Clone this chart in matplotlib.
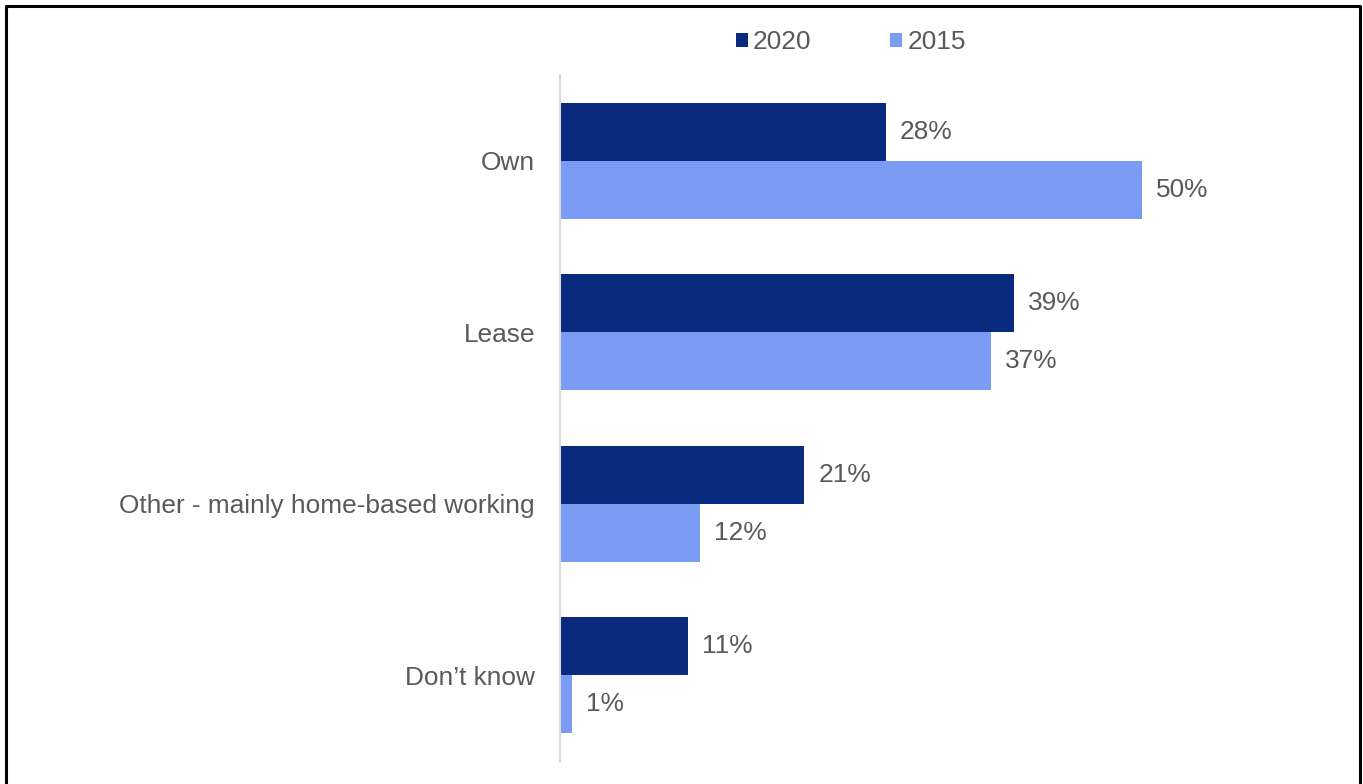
import matplotlib.pyplot as plt
from matplotlib.lines import Line2D
import numpy as np

plt.rcParams['font.family'] = ['Liberation Sans', 'DejaVu Sans']

categories = ['Own', 'Lease', 'Other - mainly home-based working', 'Don\u2019t know']
vals_2020 = [28, 39, 21, 11]
vals_2015 = [50, 37, 12, 1]

navy = '#0A2A80'
light = '#7B9CF5'
grey = '#595959'

W, H = 1363, 784
fig = plt.figure(figsize=(W / 100, H / 100), dpi=100)

# axes placed in pixel terms: zero line at x=560, rows from y=75 to y=761
px_per_pct = 11.64
x_max = 60
ax = fig.add_axes([560 / W, (H - 761) / H, x_max * px_per_pct / W, 686 / H])

y = np.arange(len(categories))
h = 0.338
b1 = ax.barh(y - h / 2, vals_2020, height=h, color=navy, label='2020')
b2 = ax.barh(y + h / 2, vals_2015, height=h, color=light, label='2015')

fs = 18.9
for bars, vals in ((b1, vals_2020), (b2, vals_2015)):
    for bar, v in zip(bars, vals):
        ax.text(v + 1.2, bar.get_y() + bar.get_height() / 2, f'{v}%',
                va='center', ha='left', fontsize=fs, color=grey)

ax.set_xlim(0, x_max)
ax.set_ylim(len(categories) - 0.5, -0.5)
ax.set_yticks(y)
ax.set_yticklabels(categories, fontsize=fs, color=grey)
ax.tick_params(axis='y', length=0, pad=18)
ax.set_xticks([])
for s in ('top', 'right', 'bottom'):
    ax.spines[s].set_visible(False)
ax.spines['left'].set_color('#D9D9D9')
ax.spines['left'].set_linewidth(1.5)

fig.legend(handles=[b1, b2], loc='center', bbox_to_anchor=(851 / W, 1 - 42 / H),
           ncol=2, frameon=False, fontsize=fs, handlelength=0.45, handleheight=0.45,
           handletextpad=0.2, columnspacing=3.0, labelcolor=grey)

# black frame around the chart
fx = [6 / W, 6 / W, 1360 / W, 1360 / W]
fy = [-0.05, 1 - 6 / H, 1 - 6 / H, -0.05]
fig.add_artist(Line2D(fx, fy, color='black', linewidth=2.2, transform=fig.transFigure))

fig.savefig('out.png', dpi=100)
